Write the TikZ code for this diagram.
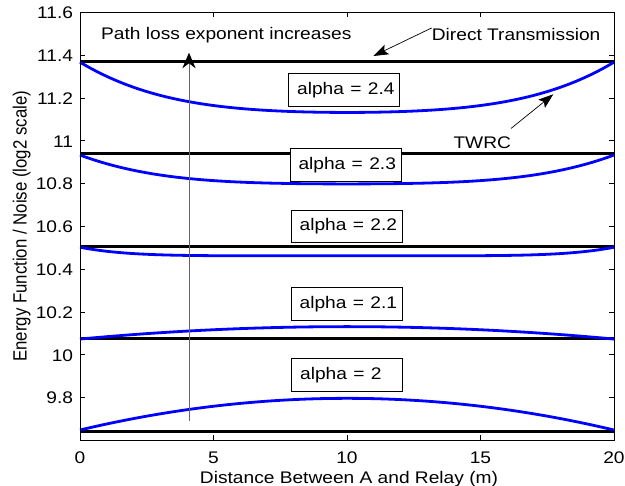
\documentclass[tikz,border=0pt]{standalone}
\usepackage{fontspec}
\setmainfont{Liberation Sans}
\usetikzlibrary{arrows.meta}
% horizontally widened text, and its rotated counterpart
\newcommand{\wtxt}[1]{\scalebox{1.14}[1]{#1}}
\newcommand{\wtxtv}[1]{\scalebox{1}[1.14]{#1}}

\begin{document}
\begin{tikzpicture}[x=1pt,y=-1pt,
  lbl/.style={font=\fontsize{16.8}{20}\selectfont, inner sep=0pt},
  frame/.style={line width=0.9pt, black},
  axtick/.style={line width=0.8pt, black},
  direct/.style={line width=3pt, black},
  twrc/.style={line width=2.8pt, blue},
  alphabox/.style={draw=black, line width=0.8pt, fill=white,
    font=\fontsize{16.8}{20}\selectfont,
    minimum width=111pt, minimum height=32.5pt,
    text width=94pt, align=left, inner xsep=8.5pt, inner ysep=0pt},
  note/.style={line width=0.7pt, black, -{Stealth[length=15pt,width=10.5pt,inset=3pt]}},
  rise/.style={line width=1pt, black!60, -{Stealth[length=15.6pt,width=13.3pt,inset=5pt,color=black]}}
]
\useasboundingbox (0,0) rectangle (625,486);

% ---------------- data axes: x = distance (m), y = log2 energy ----------------
\begin{scope}[shift={(80pt,-2494.9pt)}, x=26.7pt, y=214pt]
  % direct transmission: 1 + alpha*log2(20)
  \foreach \a in {2,2.1,2.2,2.3,2.4}
    \draw[direct] (0,{1+\a*4.321928}) -- (20,{1+\a*4.321928});

  % TWRC curves
  \draw[twrc] plot[domain=0:20, samples=101, smooth]
    (\x, {11.133 + (11.368-11.133)*(0.4*((\x-10)/10)^2 + 0.6*((\x-10)/10)^4)});
  \draw[twrc] plot[domain=0:20, samples=101, smooth]
    (\x, {10.799 + (10.934-10.799)*(0.275*((\x-10)/10)^2 + 0.725*((\x-10)/10)^4)});
  \draw[twrc] plot[domain=0:20, samples=101, smooth]
    (\x, {10.463 + (10.503-10.463)*(((\x-10)/10)^6)});
  \draw[twrc] plot[domain=0:20, samples=101, smooth]
    (\x, {10.132 + (10.074-10.132)*(((\x-10)/10)^2)});
  \draw[twrc] plot[domain=0:20, samples=101, smooth]
    (\x, {9.797 + (9.649-9.797)*(((\x-10)/10)^2)});

  % frame and ticks
  \draw[frame] (0,9.6) rectangle (20,11.6);
  \foreach \d in {0,5,10,15,20} {
    \draw[axtick] (\d,9.6) -- ++(0pt,5pt);
    \draw[axtick] (\d,11.6) -- ++(0pt,-5pt);
    \node[lbl, anchor=base] at ([yshift=-22.8pt]\d,9.6) {\wtxt{\d}};
  }
  \foreach \v/\t in {9.8/9.8,10.0/10,10.2/10.2,10.4/10.4,10.6/10.6,10.8/10.8,11.0/11,11.2/11.2,11.4/11.4,11.6/11.6} {
    \draw[axtick] (0,\v) -- ++(5pt,0pt);
    \draw[axtick] (20,\v) -- ++(-5pt,0pt);
    \node[lbl, anchor=base east] at ([xshift=-6.7pt,yshift=-6.3pt]0,\v) {\wtxt{\t}};
  }
\end{scope}

% ---------------- axis titles ----------------
\node[lbl, anchor=base] (xtitle) at (349,483.2) {\wtxt{Distance Between A and Relay (m)}};
\node[lbl, anchor=base, rotate=90] (ytitle) at (26.7,226.3) {\wtxtv{Energy Function / Noise (log2 scale)}};

% ---------------- alpha labels ----------------
\node[alphabox] (a24) at (344.2,90)  {\wtxt{alpha = 2.4}};
\node[alphabox] (a23) at (345.5,165) {\wtxt{alpha = 2.3}};
\node[alphabox] (a22) at (346.7,226.2) {\wtxt{alpha = 2.2}};
\node[alphabox] (a21) at (346.7,304) {\wtxt{alpha = 2.1}};
\node[alphabox] (a20) at (347.2,374.7) {\wtxt{alpha = 2}};

% ---------------- annotations ----------------
\node[lbl, anchor=base west] (pl) at (101,40) {\wtxt{Path loss exponent increases}};
\node[lbl, anchor=base west] (dt) at (431.7,40.3) {\wtxt{Direct Transmission}};
\node[lbl, anchor=base west] (tw) at (453.3,148.3) {\wtxt{TWRC}};

\coordinate (dtTip) at (373.3,56);
\coordinate (twTip) at (553.3,94.3);
\coordinate (riseFoot) at (189,421);
\coordinate (riseTip) at (189,52.7);

\draw[note] (dt.north west) -- (dtTip);
\draw[note] ([yshift=8pt]tw.north east) -- (twTip);
\draw[rise] (riseFoot) -- (riseTip);
\end{tikzpicture}
\end{document}
